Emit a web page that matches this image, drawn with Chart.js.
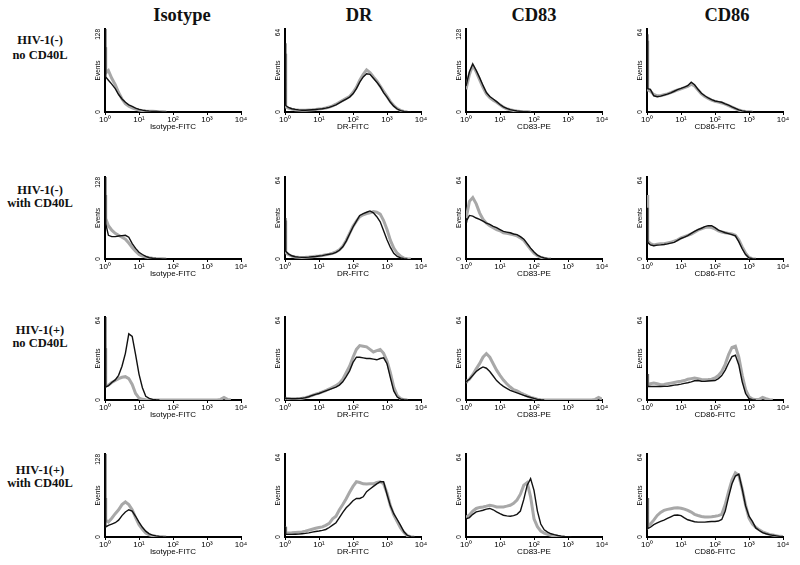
<!DOCTYPE html>
<html>
<head>
<meta charset="utf-8">
<script src="https://cdn.jsdelivr.net/npm/chart.js@4.4.1/dist/chart.umd.min.js"></script>
<style>
  body { margin: 0; background: #fff; }
  #fig { position: relative; width: 800px; height: 565px; overflow: hidden; background: #fff; }
  .lbl { position: absolute; transform: translate(-50%, -50%); white-space: nowrap;
         font-family: "Liberation Serif", "Times New Roman", serif; font-weight: bold; color: #111; }
  canvas { position: absolute; }
</style>
</head>
<body>
<div id="fig"></div>
<script>
// channel positions on the log axis (first point is the pile-up at 10^0)
const xs = [1, 1.05,
  1.26, 1.58, 2, 2.51, 3.16, 3.98, 5.01, 6.31, 7.94, 10,
  12.6, 15.8, 20, 25.1, 31.6, 39.8, 50.1, 63.1, 79.4, 100,
  126, 158, 200, 251, 316, 398, 501, 631, 794, 1000,
  1260, 1580, 2000, 2510, 3160, 3980, 5010, 6310, 7940, 10000];

const colTitles = ['Isotype', 'DR', 'CD83', 'CD86'];
const rowLabels = [['HIV-1(-)', 'no CD40L'], ['HIV-1(-)', 'with CD40L'], ['HIV-1(+)', 'no CD40L'], ['HIV-1(+)', 'with CD40L']];
const axisLabels = ['Isotype-FITC', 'DR-FITC', 'CD83-PE', 'CD86-FITC'];
const yTitle = 'Events';
const xTickValues = [1, 10, 100, 1000, 10000];
const xTickLabels = ['10⁰', '10¹', '10²', '10³', '10⁴'];
const yMaxes = [[128, 64, 128, 64], [128, 64, 64, 64], [64, 64, 64, 64], [128, 64, 64, 64]];

// row 1: HIV-1(-) no CD40L
const r1c1Black = [128, 54, 49, 43, 36, 27, 20, 15, 11, 8.5, 6, 4, 2.8, 2, 1.4, 1, 0.7, 0.4, 0.2, 0];
const r1c1Gray  = [100, 60, 64, 52, 42, 30, 20, 13, 9, 6.5, 4.5, 3, 2, 1.5, 1.2, 1, 0.7, 0.5, 0.3, 0];
const r1c2Black = [53, 5, 3.5, 2.5, 2, 1.6, 1.3, 1.3, 1.5, 1.7, 1.9, 2.2, 2.5, 3, 3.6, 4.5, 5.5, 7, 8.5, 10, 11.5, 14,
  18, 23, 27, 29.5, 29, 26, 23, 19.5, 15, 11.5, 7.5, 4.5, 2.3, 1, 0.4, 0.2, 0];
const r1c2Gray  = [45, 4, 3, 2.2, 1.8, 1.5, 1.3, 1.3, 1.5, 1.7, 2, 2.3, 2.6, 3.1, 3.8, 4.8, 6, 7.5, 9, 10.5, 12, 15,
  19, 24.5, 29, 32.5, 30.5, 27, 24, 20, 16, 12, 8, 5, 2.6, 1.2, 0.5, 0];
const r1c3Black = [40, 40, 62, 74, 64, 53, 41, 30, 24, 20, 16, 11.5, 7.8, 5.5, 3.6, 2.5, 1.5, 1, 0.6, 0.3, 0];
const r1c3Gray  = [35, 35, 58, 72, 62, 50, 38, 28, 22, 18, 15, 11, 7.5, 5, 3.4, 2.3, 1.4, 0.9, 0.5, 0.3, 0];
const r1c4Black = [60, 18, 17.5, 12.5, 11.8, 12.2, 13, 13.8, 14.8, 16, 17.3, 18.2, 19.2, 20.3, 23, 21, 17.5, 14.5, 12.5, 10.8, 9.5, 8.5,
  8, 7.5, 6.3, 5.3, 4, 2.8, 1.6, 0.9, 0.4, 0.2, 0];
const r1c4Gray  = [55, 17, 16, 13.5, 12.5, 12.5, 13.3, 14, 15, 16, 17, 17.8, 18.8, 19.8, 21.5, 20, 17, 14, 12, 10.5, 9.2, 8.2,
  7.6, 7, 6, 5, 3.8, 2.6, 1.5, 0.8, 0.4, 0.2, 0];

// row 2: HIV-1(-) with CD40L
const r2c1Black = [128, 55, 37, 35, 35, 36, 36.5, 37, 34, 24, 16.5, 10.5, 7, 4, 2, 1.2, 0.7, 0.4, 0.2, 0];
const r2c1Gray  = [100, 63, 52, 45, 40, 37, 34, 31, 25, 18, 12, 7, 4.5, 3, 2, 1.3, 0.8, 0.5, 0.2, 0];
const r2c2Black = [32, 6, 4, 2.5, 1.8, 1.5, 1.3, 1.3, 1.5, 1.8, 2, 2.3, 2.6, 3.2, 3.7, 4.2, 5.2, 6.8, 9.5, 14, 19.5, 25,
  29.5, 34, 35.5, 36.5, 37.5, 36, 33, 29, 22, 15, 9, 4.5, 2, 0.9, 0.3, 0];
const r2c2Gray  = [30, 5, 3.5, 2.2, 1.6, 1.3, 1.2, 1.3, 1.5, 1.8, 2.1, 2.4, 2.8, 3.3, 3.8, 4.5, 5.6, 7.2, 10, 14.5, 20, 25.5,
  29.5, 33, 34.5, 35.5, 36, 37, 36.5, 35, 30, 23, 14.5, 8.5, 4.5, 2.2, 0.7, 0.2, 0];
const r2c3Black = [29, 30, 34, 33.5, 32, 31, 29.5, 28, 27, 25.5, 24.5, 23, 21.5, 21, 20.5, 19.5, 19, 17.5, 15.5, 12, 8.5, 5.5,
  3, 1.6, 0.8, 0.3, 0];
const r2c3Gray  = [33, 34, 45, 48, 43, 36, 31, 28, 26, 24.5, 23, 22, 20.5, 20, 19.5, 18.8, 18, 16.5, 14.5, 11, 7.5, 4.5,
  2.5, 1.3, 0.6, 0.2, 0];
const r2c4Black = [40, 13, 11, 10.4, 10.8, 11, 11.3, 11.8, 12.4, 13, 14.5, 16, 17, 18.2, 20, 21.5, 23, 24, 25.3, 26, 26, 24.5,
  22.5, 21.5, 20.5, 19.8, 19, 18, 13.5, 8, 3.5, 0.8, 0.2, 0];
const r2c4Gray  = [50, 14, 12, 11, 11.5, 12, 12, 12.5, 13, 14, 15, 16.5, 17.5, 18.5, 19.5, 21, 22.5, 23.5, 24.5, 25, 24.5, 23.5,
  22, 21, 20.5, 20, 19.5, 18.5, 15, 9.5, 4.5, 1.2, 0.3, 0];

// row 3: HIV-1(+) no CD40L
const r3c1Black = [64, 10, 11, 13.5, 15.5, 19, 26, 36, 51, 49, 35, 20, 9.5, 2.8, 1.2, 0.5, 0.2, 0];
const r3c1Gray  = [40, 11, 11.5, 13.5, 15, 16.5, 17.5, 18, 16.5, 12, 5, 1.5, 0.5, 0.2, 0, 0, 0, 0, 0, 0, 0, 0,
  0, 0, 0, 0, 0, 0, 0, 0, 0, 0, 0, 0, 0, 0.5, 2, 0.5, 0];
const r3c2Black = [2, 1.3, 1.2, 1, 1, 1.1, 1.3, 1.8, 2.5, 3.5, 4.3, 5, 6, 7, 8, 9, 10, 11.5, 14, 18, 22.5, 29,
  33, 33, 32.5, 32, 32, 31.5, 31, 32, 32.5, 28, 17, 7, 2.3, 0.7, 0.2, 0];
const r3c2Gray  = [2, 1.2, 1, 0.9, 0.9, 1, 1.3, 1.8, 2.6, 3.6, 4.5, 5.3, 6.2, 7.3, 8.5, 9.8, 11, 13, 16, 21, 26, 33,
  39, 42, 41.5, 41, 39, 37, 38, 39, 36, 30, 21, 10, 3.5, 1, 0.3, 0];
const r3c3Black = [14, 14.5, 16, 19, 22, 24, 25.5, 24.5, 22, 18.5, 15, 12.5, 10.5, 9, 7.5, 6.4, 5.5, 4.6, 3.6, 2.7, 2, 1.2,
  0.5, 0.2, 0];
const r3c3Gray  = [14, 14.5, 16, 19.5, 24, 28, 33, 35.8, 33, 28, 23, 19, 15.4, 12.5, 10, 8, 7, 5.5, 4.3, 3.2, 2, 1.3,
  0.6, 0.2, 0, 0, 0, 0, 0, 0, 0, 0, 0, 0, 0, 0, 0, 0, 0, 0.5, 2, 0.5];
const r3c4Black = [20, 10.4, 10.4, 10.4, 10.4, 10.4, 10.5, 10.5, 11, 11.5, 11.8, 12.2, 12.8, 13.3, 14, 14.8, 15, 14.5, 14.4, 14.6, 14.8, 15,
  16.5, 18.8, 23, 28.5, 33.5, 34.5, 27, 14, 5, 1, 0.3, 0];
const r3c4Gray  = [20, 11.7, 12.5, 13, 12.5, 11.8, 12, 12.5, 13, 13.5, 14, 14.4, 15, 16, 16.5, 17, 16.5, 15.8, 15.7, 15.8, 16, 17,
  19, 22, 27.5, 35, 40.5, 41.5, 33, 19, 8, 2.5, 0.8, 0.3, 0.5, 2, 1, 0.2, 0];

// row 4: HIV-1(+) with CD40L
const r4c1Black = [128, 15.5, 18, 20, 22, 26, 33, 38.5, 42, 40, 32, 23, 15, 9, 4.8, 3, 1.7, 1, 0.5, 0.2, 0];
const r4c1Gray  = [60, 26, 23, 29, 36, 42, 50, 54, 50, 42, 30, 19, 12, 6, 3.5, 1.8, 1, 0.5, 0.2, 0];
const r4c2Black = [8, 2, 2, 2, 2.1, 2.2, 2.5, 2.8, 3.2, 3.8, 4.2, 4.6, 5.1, 5.8, 7.3, 9.2, 11, 15, 19, 22.5, 25, 28,
  29.7, 29.7, 31, 35, 37, 39, 41, 42.6, 42.6, 33, 24, 18, 13.5, 9, 4, 1.2, 0.3, 0];
const r4c2Gray  = [8, 3, 3, 3.2, 3.5, 3.7, 3.9, 4.5, 5.3, 6, 6.7, 7.3, 7.8, 9, 10.5, 14, 16, 21, 25, 29.5, 34.5, 39,
  42.6, 42, 41, 40.8, 41, 41, 42, 42.6, 41, 34, 24, 17, 12, 7, 3.5, 1, 0.2, 0];
const r4c3Black = [14, 14, 15, 17.5, 19.4, 20, 20.6, 21.5, 22, 21, 19.4, 18, 16.8, 16.3, 16, 16.5, 17.5, 20, 29, 40, 45, 36,
  20, 10, 5.5, 3.8, 2.5, 1.8, 1.2, 0.7, 0.4, 0.2, 0];
const r4c3Gray  = [15, 15.5, 17, 20, 22, 22.8, 23.2, 23.8, 24.5, 24, 23.2, 23.2, 23.2, 23.8, 24.5, 26, 28.5, 33, 40, 42, 31, 14,
  8, 4.5, 3, 2, 1.3, 0.8, 0.5, 0.2, 0];
const r4c4Black = [30, 6.4, 7.5, 9.5, 10.8, 12, 13, 14.3, 15.6, 16.8, 17, 16.5, 14.8, 13.3, 12.5, 11.8, 11.5, 11.5, 11.5, 11.8, 12, 12,
  12.3, 13.5, 20, 31, 41, 47, 48.5, 37, 24, 16, 12, 7, 5, 3.4, 2.5, 1.8, 1.3, 0.9, 0.5, 0.3];
const r4c4Gray  = [30, 7.7, 10, 13, 16.6, 19, 20.5, 21.3, 21.8, 22.3, 22.5, 22.2, 21.5, 20.5, 19.2, 17.5, 16.6, 15.8, 15.4, 15.4, 15.6, 16,
  16.5, 17.5, 25, 35, 44, 49.5, 47.5, 37, 24.5, 14.5, 10, 7.5, 5.5, 4, 3, 2, 1.5, 1, 0.5, 0.3];

const blackData = [
  [r1c1Black, r1c2Black, r1c3Black, r1c4Black],
  [r2c1Black, r2c2Black, r2c3Black, r2c4Black],
  [r3c1Black, r3c2Black, r3c3Black, r3c4Black],
  [r4c1Black, r4c2Black, r4c3Black, r4c4Black]
];
const grayData = [
  [r1c1Gray, r1c2Gray, r1c3Gray, r1c4Gray],
  [r2c1Gray, r2c2Gray, r2c3Gray, r2c4Gray],
  [r3c1Gray, r3c2Gray, r3c3Gray, r3c4Gray],
  [r4c1Gray, r4c2Gray, r4c3Gray, r4c4Gray]
];

// page layout (pixels)
const colX = [105, 285, 466, 647];      // where 10^0 sits
const plotW = 136;
const rowTop = [29, 177, 317, 454];
const rowBottom = [112, 259, 400, 537];
const titleX = [182, 359, 534, 727];
const rowLabelY = [[40, 55], [190, 203], [330, 343], [470, 483]];
const Y_W = 11, X_H = 20, PAD_T = 6, PAD_R = 14;

const fig = document.getElementById('fig');
const sans = '"Liberation Sans", Arial, sans-serif';

function addText(txt, x, y, size) {
  const d = document.createElement('div');
  d.className = 'lbl';
  d.style.left = x + 'px';
  d.style.top = y + 'px';
  d.style.fontSize = size + 'px';
  d.textContent = txt;
  fig.appendChild(d);
}

colTitles.forEach((t, c) => addText(t, titleX[c], 15, 18.5));
rowLabels.forEach((lines, r) => {
  addText(lines[0], 40, rowLabelY[r][0], 12.5);
  addText(lines[1], 40, rowLabelY[r][1], 12.5);
});

// rotated "0" and max labels beside the y axis
const yTickPlugin = {
  id: 'yTicks',
  afterDraw(chart) {
    const ys = chart.scales.y, ctx = chart.ctx;
    const x = chart.chartArea.left - 7;
    const put = (txt, y, align) => {
      ctx.save();
      ctx.translate(x, y);
      ctx.rotate(-Math.PI / 2);
      ctx.font = '6.5px ' + sans;
      ctx.fillStyle = '#000';
      ctx.textBaseline = 'middle';
      ctx.textAlign = align;
      ctx.fillText(txt, 0, 0);
      ctx.restore();
    };
    put(String(ys.min), ys.getPixelForValue(ys.min), 'center');
    put(String(ys.max), ys.getPixelForValue(ys.max), 'right');
  }
};

function makePanel(r, c) {
  const cv = document.createElement('canvas');
  cv.width = Y_W + plotW + PAD_R;
  cv.height = PAD_T + (rowBottom[r] - rowTop[r]) + X_H;
  cv.style.left = (colX[c] - Y_W) + 'px';
  cv.style.top = (rowTop[r] - PAD_T) + 'px';
  fig.appendChild(cv);

  const toPts = arr => arr.map((v, i) => ({ x: xs[i], y: v }));

  new Chart(cv, {
    type: 'line',
    data: {
      datasets: [
        { data: toPts(blackData[r][c]), borderColor: '#111', borderWidth: 1.4, pointRadius: 0, tension: 0 },
        { data: toPts(grayData[r][c]), borderColor: '#a8a8a8', borderWidth: 3, pointRadius: 0, tension: 0 }
      ]
    },
    options: {
      responsive: false,
      animation: false,
      events: [],
      layout: { padding: { left: 0, right: PAD_R, top: PAD_T, bottom: 0 } },
      plugins: { legend: { display: false }, tooltip: { enabled: false } },
      scales: {
        x: {
          type: 'logarithmic', min: 1, max: 10000,
          afterBuildTicks: ax => { ax.ticks = xTickValues.map(v => ({ value: v })); },
          afterFit: s => { s.height = X_H; },
          ticks: { autoSkip: false, maxRotation: 0, minRotation: 0, padding: 0, color: '#000',
                   font: { family: sans, size: 8 }, callback: (v, i) => xTickLabels[i] },
          grid: { display: true, drawOnChartArea: false, tickLength: 3, color: '#000', lineWidth: 1 },
          border: { display: true, color: '#000', width: 2 },
          title: { display: true, text: axisLabels[c], color: '#000', padding: 0,
                   font: { family: sans, size: 8 } }
        },
        y: {
          min: 0, max: yMaxes[r][c],
          afterFit: s => { s.width = Y_W; },
          ticks: { display: false },
          grid: { display: false },
          border: { display: true, color: '#000', width: 2 },
          title: { display: true, text: yTitle, color: '#000', padding: 0,
                   font: { family: sans, size: 6.5 } }
        }
      }
    },
    plugins: [yTickPlugin]
  });
}

for (let r = 0; r < 4; r++) {
  for (let c = 0; c < 4; c++) makePanel(r, c);
}
</script>
</body>
</html>
